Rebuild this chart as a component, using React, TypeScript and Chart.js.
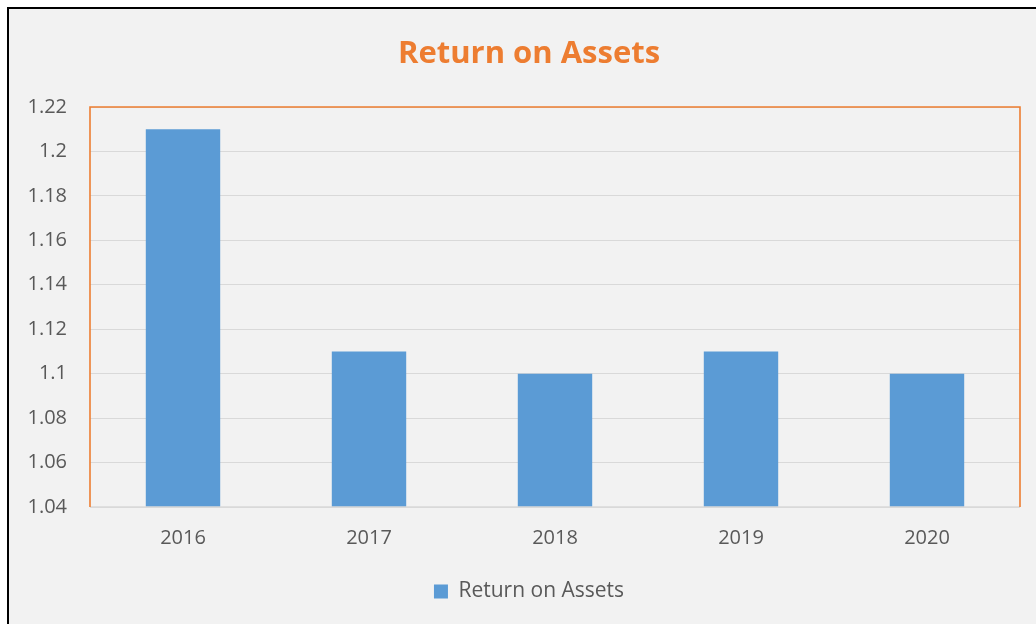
import React, { useEffect, useRef } from "react";
import { Chart, registerables } from "chart.js";

Chart.register(...registerables);

const categories = ["2016", "2017", "2018", "2019", "2020"];
const roaValues = [1.21, 1.11, 1.1, 1.11, 1.1];
const seriesName = "Return on Assets";
const chartTitle = "Return on Assets";
const yMin = 1.04;
const yMax = 1.22;
const yStep = 0.02;

const ORANGE = "#ED7D31";
const BLUE = "#5B9BD5";
const TEXT = "#595959";
const GRID = "#D9D9D9";
const FONT = "'Open Sans', 'Noto Sans', sans-serif";

const plotFrame = {
  id: "plotFrame",
  afterDatasetsDraw(chart: any) {
    const { ctx, chartArea } = chart;
    const { left, top, right, bottom } = chartArea;
    ctx.save();
    ctx.strokeStyle = GRID;
    ctx.lineWidth = 1.5;
    ctx.beginPath();
    ctx.moveTo(left, bottom);
    ctx.lineTo(right, bottom);
    ctx.stroke();
    ctx.strokeStyle = ORANGE;
    ctx.lineWidth = 1.6;
    ctx.beginPath();
    ctx.moveTo(left, bottom);
    ctx.lineTo(left, top);
    ctx.lineTo(right, top);
    ctx.lineTo(right, bottom);
    ctx.stroke();
    ctx.restore();
  },
};

export default function App() {
  const ref = useRef<HTMLCanvasElement | null>(null);

  useEffect(() => {
    if (!ref.current) return;
    const chart = new Chart(ref.current, {
      type: "bar",
      data: {
        labels: categories,
        datasets: [
          {
            label: seriesName,
            data: roaValues,
            backgroundColor: BLUE,
            borderWidth: 0,
            categoryPercentage: 1,
            barPercentage: 0.4,
          },
        ],
      },
      options: {
        responsive: false,
        animation: false,
        layout: { padding: { left: 0, right: 0, top: 0, bottom: 12 } },
        plugins: {
          title: {
            display: true,
            text: chartTitle,
            color: ORANGE,
            font: { family: FONT, size: 31, weight: "bold" },
            padding: { top: 26.5, bottom: 34.3 },
          },
          legend: {
            display: true,
            position: "bottom",
            labels: {
              color: TEXT,
              font: { family: FONT, size: 21 },
              boxWidth: 14,
              boxHeight: 14,
              padding: 10,
            },
          },
          tooltip: { enabled: false },
        },
        scales: {
          x: {
            grid: { display: false, drawTicks: false },
            border: { display: false },
            ticks: {
              color: TEXT,
              font: { family: FONT, size: 20 },
              padding: 19,
            },
            afterFit(scale: any) {
              scale.height = 64;
            },
          },
          y: {
            min: yMin,
            max: yMax,
            grid: { color: GRID, lineWidth: 1, drawTicks: false },
            border: { display: false },
            ticks: {
              stepSize: yStep,
              color: TEXT,
              font: { family: FONT, size: 20 },
              padding: 23,
              callback: (v: any) => String(Number(Number(v).toFixed(2))),
            },
            afterFit(scale: any) {
              scale.width = 81;
            },
          },
          yRightSpace: {
            type: "linear",
            position: "right",
            min: yMin,
            max: yMax,
            grid: { display: false, drawTicks: false },
            border: { display: false },
            ticks: { display: false },
            afterFit(scale: any) {
              scale.width = 29;
            },
          },
        },
      },
      plugins: [plotFrame],
    });
    return () => chart.destroy();
  }, []);

  return (
    <div
      style={{
        position: "fixed",
        left: 7,
        top: 7,
        width: 1040,
        height: 615,
        borderLeft: "2px solid #000",
        borderTop: "2px solid #000",
        background: "#F2F2F2",
        overflow: "hidden",
      }}
    >
      <canvas ref={ref} width={1040} height={615} style={{ display: "block" }} />
    </div>
  );
}
